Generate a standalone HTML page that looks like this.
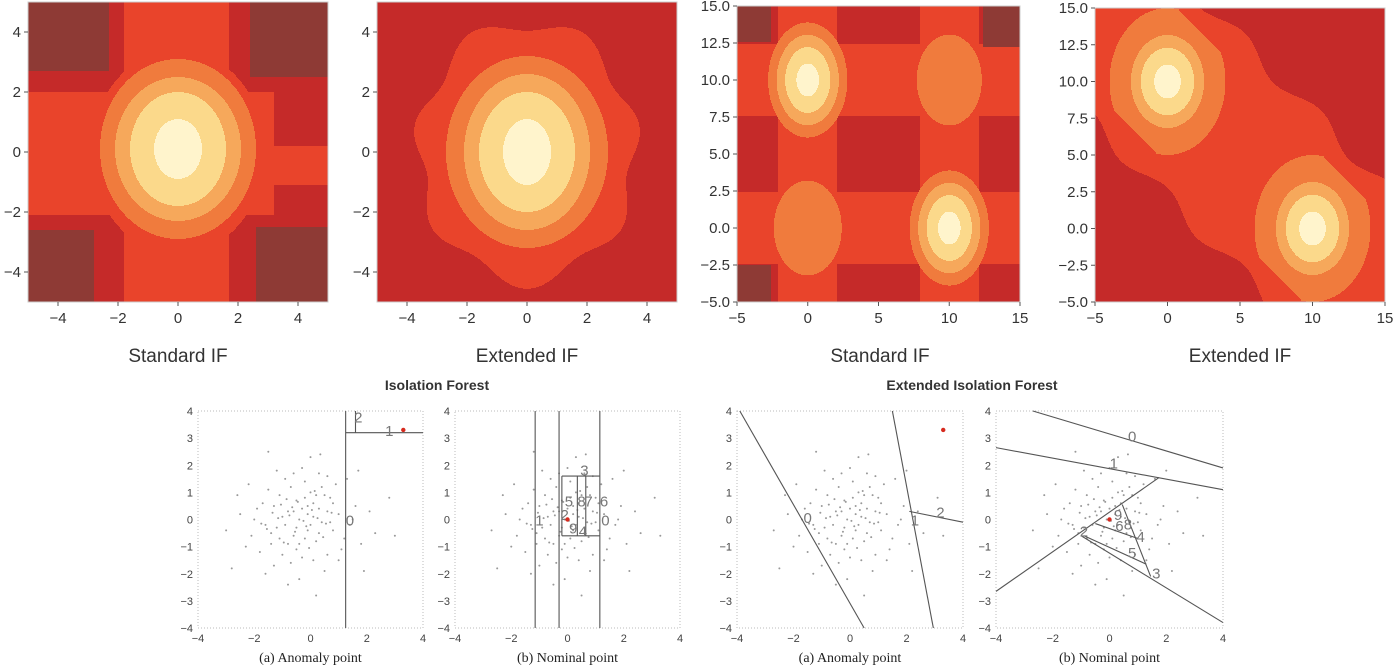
<!DOCTYPE html>
<html><head><meta charset="utf-8">
<style>
html,body{margin:0;padding:0;background:#fff;}
#wrap{position:relative;width:1400px;height:666px;overflow:hidden;font-family:"Liberation Sans",sans-serif;}
canvas{position:absolute;image-rendering:pixelated;}
svg{position:absolute;left:0;top:0;}
</style></head>
<body>
<div id="wrap">
<canvas id="h1"></canvas>
<canvas id="h2"></canvas>
<canvas id="h3"></canvas>
<canvas id="h4"></canvas>
<svg id="s" width="1400" height="666"></svg>
</div>
<script>
// ---- data ----
const levelColors = ['#8e3a35','#c52a29','#e9442b','#f07b3d','#f6a85b','#fbd98b','#fff4cc'];
const singleCenter = [0, 0];
const doubleCenters = [[0, 10], [10, 0]];
const stdSingleRadii = [[0.8,1.0],[1.6,1.9],[2.1,2.4],[2.6,3.0],[2.9,3.4]];
const extSingleRadii = [[0.8,1.1],[1.6,2.0],[2.1,2.6],[2.7,3.2],[3.6,4.3]];
const doubleRadii = [0.8, 1.6, 2.2, 2.8];
const grayBoxesSingle = [[-5,-2.3,2.7,5],[2.4,5,2.5,5],[-5,-2.8,-5,-2.6],[2.6,5,-5,-2.5]];
const grayBoxesDouble = [[-5,-2.6,12.6,15],[12.4,15,12.2,15],[-5,-2.6,-5,-2.5]];
const ptsX = [-0.5,0.2,1.1,-1.3,0.7,-0.2,0.4,-0.8,1.5,-1.6,0.1,-0.3,0.9,-1.1,0.6,-0.6,1.3,-0.1,0.3,-0.9,0.8,-1.8,0.0,1.9,-0.4,0.5,-1.2,1.0,-0.7,0.2,-0.2,0.6,-1.4,1.2,-0.5,0.4,-2.2,2.1,-0.1,0.3,-1.0,1.6,-2.5,-2.7,3.3,3.1,2.6,0.5,-1.2,0.65,-0.3,0.1,0.9,-0.6,0.0,1.4,-1.5,0.7,-0.8,0.3,-0.4,1.1,-1.9,2.0,-0.2,0.2,0.5,-1.0,1.7,-0.7,0.8,-1.3,2.2,-2.0,0.1,-0.9,1.3,0.4,-0.1,-1.7,1.8,0.6,-0.5,0.9,-2.3,2.4,0.0,-0.3,1.0,-1.1,-0.45,0.15,-0.75,0.55,-0.25,0.35,-1.05,0.85,-0.15,-0.65,0.05,-1.25,0.45,-0.35,0.75,-0.55,0.25,-0.85,1.05,-1.45];
const ptsY = [0.3,-0.4,0.6,-0.2,1.2,-1.1,0.1,0.9,-0.7,0.4,0.8,-0.6,-1.3,-0.9,0.4,1.5,0.2,0.0,-0.2,-0.3,0.9,-0.6,1.9,0.5,-1.6,-0.8,1.1,-0.1,0.1,0.5,0.7,-0.5,0.6,1.3,-0.9,-1.5,0.2,-0.9,-2.2,2.3,-1.7,1.5,-1.8,-0.4,-0.6,0.8,-0.5,-2.8,2.5,2.4,0.3,-0.7,0.3,-0.2,0.4,-1.1,-1.2,-0.1,-0.7,1.0,1.2,-0.4,1.3,1.8,-0.3,0.2,0.9,0.5,-0.2,-1.3,-1.9,-2.0,-1.9,-1.0,1.4,1.8,-1.5,0.6,-0.9,0.0,0.0,1.7,-2.4,1.6,0.9,0.3,-1.4,1.7,0.8,-0.5,0.15,-0.25,0.55,0.05,-0.45,0.35,0.25,-0.15,0.65,-0.85,-0.05,-0.35,1.05,0.45,-0.65,0.75,-1.05,0.05,0.25,-0.15];
// partition segments [x1,y1,x2,y2] in data coords
const segA = [[1.25,-4,1.25,4],[1.25,3.2,4,3.2],[1.6,3.2,1.6,4]];
const labA = [['0',1.4,0.0],['1',2.8,3.3],['2',1.7,3.8]];
const redA = [[3.3,3.3]];
const segB = [[-1.15,-4,-1.15,4],[-0.3,-4,-0.3,4],[1.15,-4,1.15,4],[-0.2,-0.6,1.15,-0.6],[-0.2,1.6,1.15,1.6],[-0.2,-0.6,-0.2,1.6],[0.35,-0.6,0.35,1.6],[0.65,-0.6,0.65,1.6]];
const labB = [['1',-1.0,0.0],['2',-0.1,0.2],['3',0.6,1.85],['5',0.05,0.7],['8',0.5,0.7],['7',0.75,0.7],['6',1.3,0.7],['0',1.35,0.0],['9',0.2,-0.3],['4',0.55,-0.4]];
const redB = [[0.0,0.0]];
const segC = [[-3.9,4,0.5,-4],[1.5,4,2.95,-4],[2.1,0.3,4,-0.1]];
const labC = [['0',-1.5,0.1],['1',2.3,0.0],['2',3.2,0.3]];
const redC = [[3.3,3.3]];
const segD = [[-2.7,4,4,1.9],[-4,2.65,4,1.1],[-4,-2.65,1.75,1.55],[-1.0,-0.6,4,-3.8],[0.45,0.55,1.45,-2.1],[-0.5,-0.15,1.0,-0.7],[-0.9,-0.6,1.3,-1.65]];
const labD = [['0',0.8,3.1],['1',0.15,2.1],['2',-0.9,-0.4],['3',1.65,-1.95],['4',1.1,-0.6],['5',0.8,-1.2],['9',0.3,0.2],['6',0.35,-0.2],['8',0.65,-0.15]];
const redD = [[0.0,0.0]];
const topXTicks1 = [-4,-2,0,2,4], topYTicks1 = [-4,-2,0,2,4];
const topXTicks2 = [-5,0,5,10,15], topYTicks2 = [-5,-2.5,0,2.5,5,7.5,10,12.5,15];
const botXTicks = [-4,-2,0,2,4], botYTicks = [-4,-3,-2,-1,0,1,2,3,4];

// ---- helpers ----
const NS='http://www.w3.org/2000/svg', S=document.getElementById('s');
function mk(tag,attrs,parent){const e=document.createElementNS(NS,tag);for(const k in attrs)e.setAttribute(k,attrs[k]);(parent||S).appendChild(e);return e;}
function inBoxes(x,y,b){return b.some(q=>x>=q[0]&&x<=q[1]&&y>=q[2]&&y<=q[3]);}
function ell(x,y,cx,cy,r){return Math.hypot((x-cx)/r[0],(y-cy)/r[1])<1;}

function lvlStdSingle(x,y){
  const [cx,cy]=singleCenter;
  for(let i=0;i<4;i++) if(ell(x,y,cx,cy+0.1,stdSingleRadii[i])) return 6-i;
  if(inBoxes(x,y,grayBoxesSingle)) return 0;
  if(ell(x,y,cx,cy,stdSingleRadii[4])) return 2;
  if(x>cx-1.8&&x<cx+1.7) return 2;
  if(y>cy-2.1&&y<cy+2.0&&x<cx) return 2;
  if(y>cy-1.1&&y<cy+0.2&&x>=cx) return 2;
  if(y>cy-2.1&&y<cy+2.0&&x>=cx&&x<3.2) return 2;
  return 1;
}
function lvlExtSingle(x,y){
  const [cx,cy]=singleCenter;
  for(let i=0;i<4;i++) if(ell(x,y,cx,cy,extSingleRadii[i])) return 6-i;
  const w=1+0.06*Math.sin(Math.atan2(y,x)*7);
  if(Math.hypot(x/extSingleRadii[4][0],y/extSingleRadii[4][1])<w) return 2;
  return 1;
}
function lvlStdDouble(x,y){
  let r=Infinity;for(const c of doubleCenters) r=Math.min(r,Math.hypot(x-c[0],(y-c[1])*0.72));
  for(let i=0;i<4;i++) if(r<doubleRadii[i]) return 6-i;
  if(Math.hypot(x,y*0.75)<2.4||Math.hypot(x-10,(y-10)*0.75)<2.3) return 3;
  if(inBoxes(x,y,grayBoxesDouble)) return 0;
  const xs=doubleCenters.map(c=>c[0]), ys=doubleCenters.map(c=>c[1]);
  if(xs.some(v=>Math.abs(x-v)<2.1)||ys.some(v=>Math.abs(y-v)<2.4)) return 2;
  return 1;
}
function lvlExtDouble(x,y){
  let r=Infinity;for(const c of doubleCenters) r=Math.min(r,Math.hypot(x-c[0],(y-c[1])*0.8));
  for(let i=0;i<4;i++) if(r<doubleRadii[i]*1.15) return 6-i;
  const d=(x+y-10)/Math.SQRT2;
  if(r<4.0&&Math.abs(d)<4.0) return 3;
  const wob=0.5*Math.sin((x-y)*0.6);
  if(Math.abs(d)<5.6+wob) return 2;
  return 1;
}
function heat(id,x0,y0,w,h,xd,yd,fn){
  const c=document.getElementById(id);c.width=w;c.height=h;c.style.left=x0+'px';c.style.top=y0+'px';
  const ctx=c.getContext('2d'),img=ctx.createImageData(w,h);
  const rgb=levelColors.map(s=>[parseInt(s.slice(1,3),16),parseInt(s.slice(3,5),16),parseInt(s.slice(5,7),16)]);
  for(let j=0;j<h;j++)for(let i=0;i<w;i++){
    const x=xd[0]+(i+0.5)/w*(xd[1]-xd[0]), y=yd[1]-(j+0.5)/h*(yd[1]-yd[0]);
    const L=fn(x,y),p=(j*w+i)*4,col=rgb[L];
    img.data[p]=col[0];img.data[p+1]=col[1];img.data[p+2]=col[2];img.data[p+3]=255;}
  ctx.putImageData(img,0,0);
}
function topAxes(name,x0,y0,w,h,xd,yd,xt,yt,fx,fy){
  const g=mk('g',{});
  
  
  mk('rect',{x:x0,y:y0,width:w,height:h,fill:'none',stroke:'#ccc','stroke-width':1},g);
  const sx=v=>x0+(v-xd[0])/(xd[1]-xd[0])*w, sy=v=>y0+h-(v-yd[0])/(yd[1]-yd[0])*h;
  xt.forEach(v=>{mk('line',{x1:sx(v),x2:sx(v),y1:y0+h,y2:y0+h+4,stroke:'#555'},g);
    const t=mk('text',{x:sx(v),y:y0+h+21,'text-anchor':'middle','font-size':15,fill:'#333'},g);t.textContent=fx(v);
    
    });
  yt.forEach(v=>{mk('line',{x1:x0-4,x2:x0,y1:sy(v),y2:sy(v),stroke:'#555'},g);
    const t=mk('text',{x:x0-7,y:sy(v)+5,'text-anchor':'end','font-size':15,fill:'#333'},g);t.textContent=fy(v);
    
    });
}
const fInt=v=>(v<0?'\u2212':'')+Math.abs(v);
const fDec=v=>(v<0?'\u2212':'')+Math.abs(v).toFixed(1);

heat('h1',28,2,300,300,[-5,5],[-5,5],lvlStdSingle);
heat('h2',377,2,300,300,[-5,5],[-5,5],lvlExtSingle);
heat('h3',737,6,283,296,[-5,15],[-5,15],lvlStdDouble);
heat('h4',1095,8,290,294,[-5,15],[-5,15],lvlExtDouble);
topAxes('standard-if-single',28,2,300,300,[-5,5],[-5,5],topXTicks1,topYTicks1,fInt,fInt);
topAxes('extended-if-single',377,2,300,300,[-5,5],[-5,5],topXTicks1,topYTicks1,fInt,fInt);
topAxes('standard-if-double',737,6,283,296,[-5,15],[-5,15],topXTicks2,topYTicks2,fInt,fDec);
topAxes('extended-if-double',1095,8,290,294,[-5,15],[-5,15],topXTicks2,topYTicks2,fInt,fDec);

const caps=[['Standard IF',178],['Extended IF',527],['Standard IF',880],['Extended IF',1240]];
caps.forEach(c=>{const t=mk('text',{x:c[1],y:362,'text-anchor':'middle','font-size':19,fill:'#333'});t.textContent=c[0];
  
  });
const tt1=mk('text',{x:437,y:390,'text-anchor':'middle','font-size':14,'font-weight':'bold',fill:'#333'});tt1.textContent='Isolation Forest';


const tt2=mk('text',{x:972,y:390,'text-anchor':'middle','font-size':14,'font-weight':'bold',fill:'#333'});tt2.textContent='Extended Isolation Forest';



function botPanel(name,x0,x1,seg,lab,red,cap,shift){
  const y0=411,y1=628;
  const sx=v=>x0+(v+4)/8*(x1-x0), sy=v=>y1-(v+4)/8*(y1-y0);
  const g=mk('g',{});
  
  
  mk('rect',{x:x0,y:y0,width:x1-x0,height:y1-y0,fill:'none',stroke:'#bbb','stroke-dasharray':'1,2'},g);
  botXTicks.forEach(v=>{const t=mk('text',{x:sx(v),y:y1+14,'text-anchor':'middle','font-size':11,fill:'#444'},g);t.textContent=fInt(v);
    
    });
  botYTicks.forEach(v=>{const t=mk('text',{x:x0-5,y:sy(v)+4,'text-anchor':'end','font-size':11,fill:'#444'},g);t.textContent=fInt(v);
    
    });
  ptsX.forEach((v,i)=>{const c=mk('circle',{cx:sx(v+shift),cy:sy(ptsY[i]),r:1,fill:'#999'},g);
    
    });
  seg.forEach(s=>{const l=mk('line',{x1:sx(s[0]),y1:sy(s[1]),x2:sx(s[2]),y2:sy(s[3]),stroke:'#555','stroke-width':1.1},g);
    
    });
  lab.forEach(l=>{const t=mk('text',{x:sx(l[1]),y:sy(l[2])+6,'text-anchor':'middle','font-size':15,fill:'#777'},g);t.textContent=l[0];
    
    });
  red.forEach(p=>{const c=mk('circle',{cx:sx(p[0]),cy:sy(p[1]),r:2.2,fill:'#d62a1e'},g);
    
    });
  const t=mk('text',{x:(x0+x1)/2,y:662,'text-anchor':'middle','font-size':14,fill:'#222','font-family':'"Liberation Serif",serif'},g);t.textContent=cap;
  
  
}
botPanel('if-anomaly-panel',198,423,segA,labA,redA,'(a) Anomaly point',-0.3);
botPanel('if-nominal-panel',455,680,segB,labB,redB,'(b) Nominal point',0);
botPanel('eif-anomaly-panel',737,963,segC,labC,redC,'(a) Anomaly point',0);
botPanel('eif-nominal-panel',996,1223,segD,labD,redD,'(b) Nominal point',0);
</script>
</body></html>
